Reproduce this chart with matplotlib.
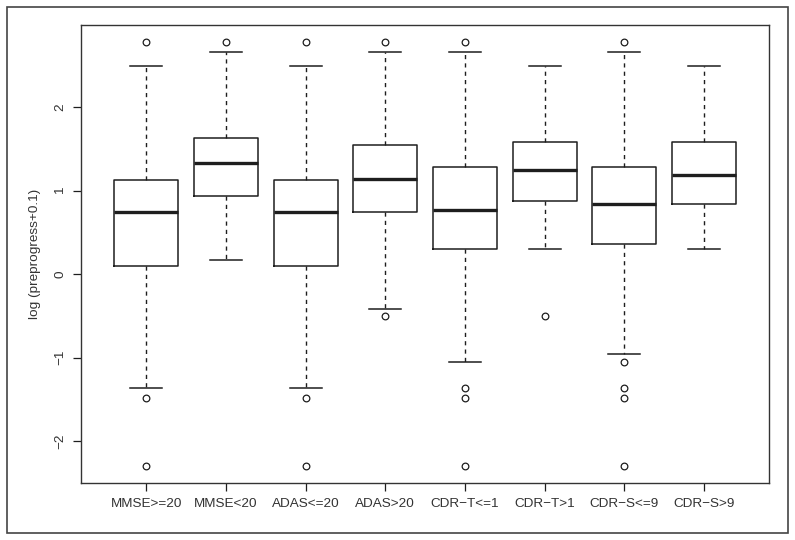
import numpy as np
import matplotlib
matplotlib.use('Agg')
from matplotlib import pyplot as plt
from matplotlib.patches import Rectangle

plt.rcParams['font.family'] = ['Liberation Sans', 'DejaVu Sans']

# groups and box statistics (log scale values)
groups = ['MMSE>=20', 'MMSE<20', 'ADAS<=20', 'ADAS>20',
          'CDR\u2212T<=1', 'CDR\u2212T>1', 'CDR\u2212S<=9', 'CDR\u2212S>9']
whislo = [-1.367, 0.168, -1.367, -0.420, -1.052, 0.303, -0.952, 0.303]
q1 = [0.099, 0.939, 0.099, 0.747, 0.303, 0.871, 0.360, 0.843]
med = [0.747, 1.326, 0.747, 1.134, 0.771, 1.247, 0.839, 1.191]
q3 = [1.131, 1.634, 1.131, 1.550, 1.283, 1.578, 1.283, 1.583]
whishi = [2.497, 2.653, 2.497, 2.653, 2.653, 2.497, 2.653, 2.497]
fliers = [
    [2.779, -1.49, -2.303],
    [2.779],
    [2.779, -1.49, -2.303],
    [2.779, -0.508],
    [2.779, -1.367, -1.49, -2.303],
    [-0.508],
    [2.779, -1.052, -1.367, -1.49, -2.303],
    [],
]
yticks = [-2, -1, 0, 1, 2]

line_col = '#1e1e1e'
text_col = '#333333'

stats = []
for i in range(len(groups)):
    stats.append(dict(label=groups[i], whislo=whislo[i], q1=q1[i], med=med[i],
                      q3=q3[i], whishi=whishi[i], fliers=np.array(fliers[i])))

fig = plt.figure(figsize=(7.95, 5.4), dpi=100)
ax = fig.add_axes([0.1019, 0.105, 0.8658, 0.8487])

pos = np.arange(1, len(groups) + 1)
ax.bxp(stats, positions=pos, widths=0.8, showfliers=True,
       boxprops=dict(color=line_col, linewidth=1.1),
       whiskerprops=dict(color=line_col, linewidth=1.0, linestyle=(0, (3, 3))),
       capprops=dict(color=line_col, linewidth=1.1),
       medianprops=dict(color=line_col, linewidth=2.4, solid_capstyle='butt'),
       flierprops=dict(marker='o', markerfacecolor='none', markeredgecolor=line_col,
                       markersize=4.8, markeredgewidth=0.9, linestyle='none'))

# R-style axis extents (4% padding)
lo = min(min(whislo), min(min(f) for f in fliers if f))
hi = max(max(whishi), max(max(f) for f in fliers if f))
pad = 0.04 * (hi - lo)
ax.set_ylim(lo - pad, hi + pad)
ax.set_xlim(0.5 - 0.04 * 8, len(groups) + 0.5 + 0.04 * 8)

ax.set_xticks(pos)
ax.set_xticklabels(groups)
ax.set_yticks(yticks)
ax.set_yticklabels([str(v).replace('-', '\u2212') for v in yticks])
plt.setp(ax.get_yticklabels(), rotation=90, va='center')
ax.tick_params(direction='out', length=5.5, width=0.9, color=line_col,
               labelsize=9.7, labelcolor=text_col)
ax.tick_params(axis='x', pad=5)
ax.tick_params(axis='y', pad=5.3)
for sp in ax.spines.values():
    sp.set_color('#333333')
    sp.set_linewidth(1.0)

ax.set_ylabel('log (preprogress+0.1)', fontsize=9.7, color=text_col)
ax.yaxis.set_label_coords(-0.058, 0.5)

# outer frame around the whole figure
fig.patches.append(Rectangle((0.0084, 0.0135), 0.9824, 0.9741, transform=fig.transFigure,
                             fill=False, edgecolor='#444444', linewidth=1.2))

fig.savefig('out.png', dpi=100)
